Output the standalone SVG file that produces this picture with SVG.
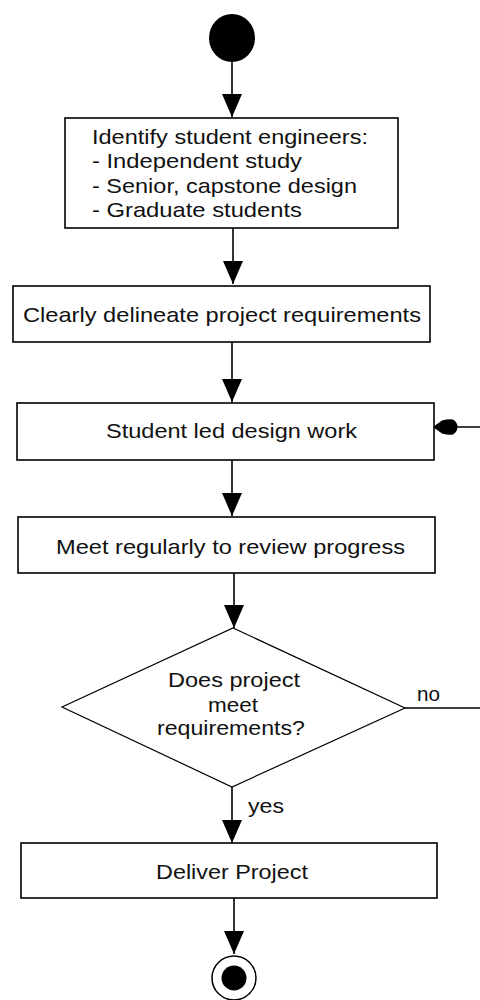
<svg xmlns="http://www.w3.org/2000/svg" width="480" height="1000" viewBox="0 0 480 1000">
<defs>
<style>
.box{fill:#fff;stroke:#000;stroke-width:1.6}
.dia{fill:#fff;stroke:#000;stroke-width:1.2}
.ln{fill:none;stroke:#000;stroke-width:1.6}
text{font-family:"Liberation Sans",Arial,sans-serif;font-size:21px;fill:#111}
</style>
<marker id="ah" viewBox="0 0 23 20" refX="23" refY="10" markerWidth="23" markerHeight="20" markerUnits="userSpaceOnUse" orient="auto">
<path d="M0,0 L23,10 L0,20 z" fill="#000"/>
</marker>
</defs>
<g id="connectors">
<line class="ln" x1="232" y1="60" x2="232" y2="117" marker-end="url(#ah)"/>
<line class="ln" x1="233" y1="228" x2="233" y2="284" marker-end="url(#ah)"/>
<line class="ln" x1="232" y1="342" x2="232" y2="402" marker-end="url(#ah)"/>
<line class="ln" x1="232" y1="460" x2="232" y2="516" marker-end="url(#ah)"/>
<line class="ln" x1="234" y1="573" x2="234" y2="628" marker-end="url(#ah)"/>
<line class="ln" x1="232" y1="787" x2="232" y2="843" marker-end="url(#ah)"/>
<line class="ln" x1="234" y1="898" x2="234" y2="954" marker-end="url(#ah)"/>
<path class="ln" d="M405,708 L492,708 L492,427 L456,427"/>
<path d="M433,427 L442,420.5 Q449,418.5 453,419.5 Q457.5,422 457.5,427 Q457.5,432 453,434.5 Q449,435.5 442,433.5 z" fill="#000"/>
<text x="417" y="701" textLength="23" lengthAdjust="spacingAndGlyphs">no</text>
<text x="248" y="813" textLength="36" lengthAdjust="spacingAndGlyphs">yes</text>
</g>
<g id="start">
<ellipse cx="232" cy="38" rx="23" ry="24" fill="#000"/>
</g>
<g id="identify">
<rect class="box" x="65" y="118" width="333" height="110"/>
<text x="92" y="144" textLength="276" lengthAdjust="spacingAndGlyphs">Identify student engineers:</text>
<text x="92" y="168" textLength="210" lengthAdjust="spacingAndGlyphs">- Independent study</text>
<text x="92" y="193" textLength="265" lengthAdjust="spacingAndGlyphs">- Senior, capstone design</text>
<text x="92" y="217" textLength="210" lengthAdjust="spacingAndGlyphs">- Graduate students</text>
</g>
<g id="requirements">
<rect class="box" x="13" y="286" width="417" height="56"/>
<text x="23" y="322" textLength="398" lengthAdjust="spacingAndGlyphs">Clearly delineate project requirements</text>
</g>
<g id="design">
<rect class="box" x="17" y="403" width="417" height="57"/>
<text x="106" y="438" textLength="251" lengthAdjust="spacingAndGlyphs">Student led design work</text>
</g>
<g id="meet">
<rect class="box" x="18" y="517" width="417" height="56"/>
<text x="56" y="554" textLength="349" lengthAdjust="spacingAndGlyphs">Meet regularly to review progress</text>
</g>
<g id="decision">
<polygon class="dia" points="233,628 405,708 232,787 62,707"/>
<text x="168" y="687" textLength="132" lengthAdjust="spacingAndGlyphs">Does project</text>
<text x="208" y="712" textLength="50" lengthAdjust="spacingAndGlyphs">meet</text>
<text x="157" y="735" textLength="148" lengthAdjust="spacingAndGlyphs">requirements?</text>
</g>
<g id="deliver">
<rect class="box" x="21" y="843" width="416" height="55"/>
<text x="156" y="879" textLength="152" lengthAdjust="spacingAndGlyphs">Deliver Project</text>
</g>
<g id="end">
<circle cx="234" cy="978" r="22" fill="#fff" stroke="#000" stroke-width="1.5"/>
<circle cx="234" cy="978" r="12.5" fill="#000"/>
</g>
</svg>
